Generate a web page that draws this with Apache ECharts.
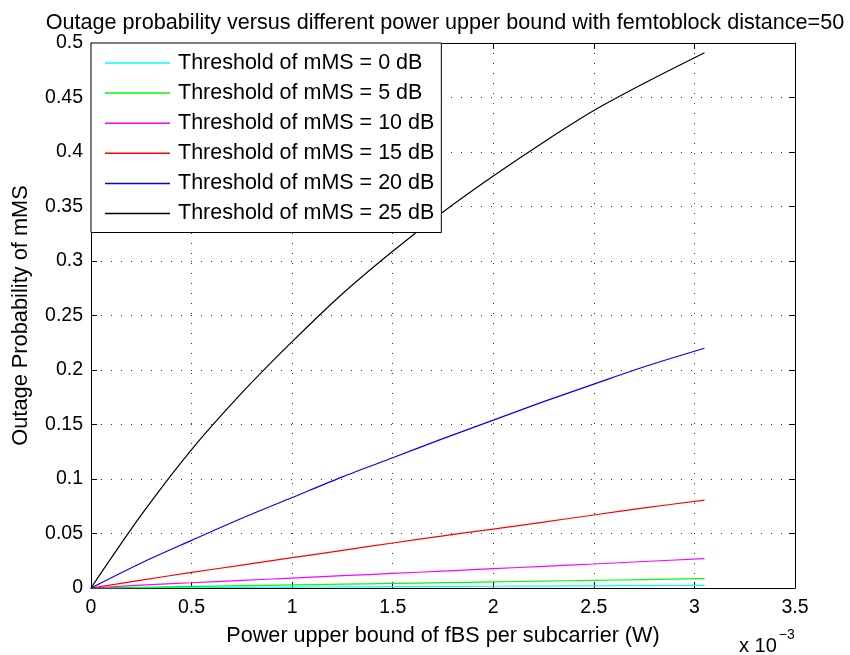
<!DOCTYPE html>
<html>
<head>
<meta charset="utf-8">
<script src="https://cdn.jsdelivr.net/npm/echarts@6/dist/echarts.min.js"></script>
<style>
html,body{margin:0;padding:0;background:#fff;}
#chart{width:850px;height:655px;}
</style>
</head>
<body>
<div id="chart"></div>
<script>
// x values in units of 1e-3 W
var xVals = [0, 0.25, 0.5, 0.75, 1.0, 1.25, 1.5, 1.75, 2.0, 2.25, 2.5, 2.75, 3.05];
var seriesNames = [
  'Threshold of mMS = 0 dB',
  'Threshold of mMS = 5 dB',
  'Threshold of mMS = 10 dB',
  'Threshold of mMS = 15 dB',
  'Threshold of mMS = 20 dB',
  'Threshold of mMS = 25 dB'
];
var th0  = [0, 0.0002, 0.0004, 0.0006, 0.0008, 0.0010, 0.0012, 0.0014, 0.0016, 0.0018, 0.0020, 0.0022, 0.0024];
var th5  = [0, 0.0007, 0.0014, 0.0021, 0.0028, 0.0035, 0.0042, 0.0049, 0.0056, 0.0063, 0.0070, 0.0077, 0.0086];
var th10 = [0, 0.0026, 0.0048, 0.0070, 0.0091, 0.0113, 0.0134, 0.0155, 0.0177, 0.0199, 0.0220, 0.0243, 0.0270];
var th15 = [0, 0.0072, 0.0143, 0.0210, 0.0278, 0.0345, 0.0413, 0.0478, 0.0541, 0.0605, 0.0670, 0.0735, 0.0806];
var th20 = [0, 0.0230, 0.0437, 0.0640, 0.0830, 0.1020, 0.1195, 0.1370, 0.1540, 0.1710, 0.1870, 0.2030, 0.2200];
var th25 = [0, 0.0670, 0.1270, 0.1790, 0.2260, 0.2700, 0.3090, 0.3450, 0.3780, 0.4090, 0.4380, 0.4630, 0.4910];
var colors = ['#00ffff', '#00ff00', '#ff00ff', '#ff0000', '#0000ff', '#000000'];
var xTickLabels = ['0', '0.5', '1', '1.5', '2', '2.5', '3', '3.5'];
var yTickLabels = ['0', '0.05', '0.1', '0.15', '0.2', '0.25', '0.3', '0.35', '0.4', '0.45', '0.5'];

var allY = [th0, th5, th10, th15, th20, th25];
var FONT = '"Liberation Sans", Arial, Helvetica, sans-serif';

function pair(ys) { return xVals.map(function (x, i) { return [x, ys[i]]; }); }

var series = allY.map(function (ys, k) {
  return {
    name: seriesNames[k],
    type: 'line',
    data: pair(ys),
    symbol: 'none',
    showSymbol: false,
    smooth: 0.3,
    lineStyle: { color: colors[k], width: 1.2 },
    itemStyle: { color: colors[k] },
    z: 2,
    animation: false
  };
});

var gridDot = { color: '#333', width: 1, type: [1, 9] };

var chart = echarts.init(document.getElementById('chart'), null, { renderer: 'canvas' });
chart.setOption({
  animation: false,
  backgroundColor: '#fff',
  textStyle: { fontFamily: FONT },
  title: {
    text: 'Outage probability versus different power upper bound with femtoblock distance=50',
    left: 440, top: 7, textAlign: 'center',
    textStyle: { fontFamily: FONT, fontSize: 21.6, fontWeight: 'normal', color: '#000' }
  },
  grid: { left: 91, right: 55, top: 43, bottom: 67, containLabel: false },
  legend: {
    orient: 'vertical',
    left: 91, top: 43,
    data: seriesNames.map(function (n) { return { name: n, icon: 'rect' }; }),
    itemWidth: 65, itemHeight: 1.5, itemGap: 8.1,
    padding: [9, 7, 8, 14],
    backgroundColor: '#fff',
    borderColor: '#000', borderWidth: 1,
    textStyle: { fontFamily: FONT, fontSize: 21.5, lineHeight: 22, color: '#000', padding: [0, 0, 0, 3] },
    selectedMode: false,
    z: 10
  },
  xAxis: [{
    type: 'value', min: 0, max: 3.5, interval: 0.5, position: 'bottom',
    name: 'Power upper bound of fBS per subcarrier (W)',
    nameLocation: 'middle', nameGap: 37,
    nameTextStyle: { fontFamily: FONT, fontSize: 21.6, color: '#000' },
    axisLine: { show: true, onZero: false, lineStyle: { color: '#000', width: 1 } },
    axisTick: { show: true, inside: true, length: 6, lineStyle: { color: '#000' } },
    axisLabel: { fontFamily: FONT, fontSize: 19.5, color: '#000', margin: 10,
      formatter: function (v) { return xTickLabels[Math.round(v / 0.5)]; } },
    splitLine: { show: true, lineStyle: gridDot }
  }, {
    type: 'value', min: 0, max: 3.5, interval: 0.5, position: 'top',
    axisLine: { show: true, onZero: false, lineStyle: { color: '#000', width: 1 } },
    axisTick: { show: true, inside: true, length: 6, lineStyle: { color: '#000' } },
    axisLabel: { show: false },
    splitLine: { show: false }
  }],
  yAxis: [{
    type: 'value', min: 0, max: 0.5, interval: 0.05, position: 'left',
    name: 'Outage Probability of mMS',
    nameLocation: 'middle', nameGap: 59, nameRotate: 90,
    nameTextStyle: { fontFamily: FONT, fontSize: 21.8, color: '#000' },
    axisLine: { show: true, onZero: false, lineStyle: { color: '#000', width: 1 } },
    axisTick: { show: true, inside: true, length: 6, lineStyle: { color: '#000' } },
    axisLabel: { fontFamily: FONT, fontSize: 19.5, color: '#000', margin: 8,
      formatter: function (v) { return yTickLabels[Math.round(v / 0.05)]; } },
    splitLine: { show: true, lineStyle: gridDot }
  }, {
    type: 'value', min: 0, max: 0.5, interval: 0.05, position: 'right',
    axisLine: { show: true, onZero: false, lineStyle: { color: '#000', width: 1 } },
    axisTick: { show: true, inside: true, length: 6, lineStyle: { color: '#000' } },
    axisLabel: { show: false },
    splitLine: { show: false }
  }],
  graphic: [{
    type: 'text',
    left: 739, top: 628,
    style: {
      text: '{a|x 10}{b|−3}',
      rich: {
        a: { fontFamily: FONT, fontSize: 20, fill: '#000', padding: [8, 0, 0, 0] },
        b: { fontFamily: FONT, fontSize: 14, fill: '#000', verticalAlign: 'top', padding: [0, 0, 0, 2] }
      }
    }
  }],
  series: series
});
</script>
</body>
</html>
